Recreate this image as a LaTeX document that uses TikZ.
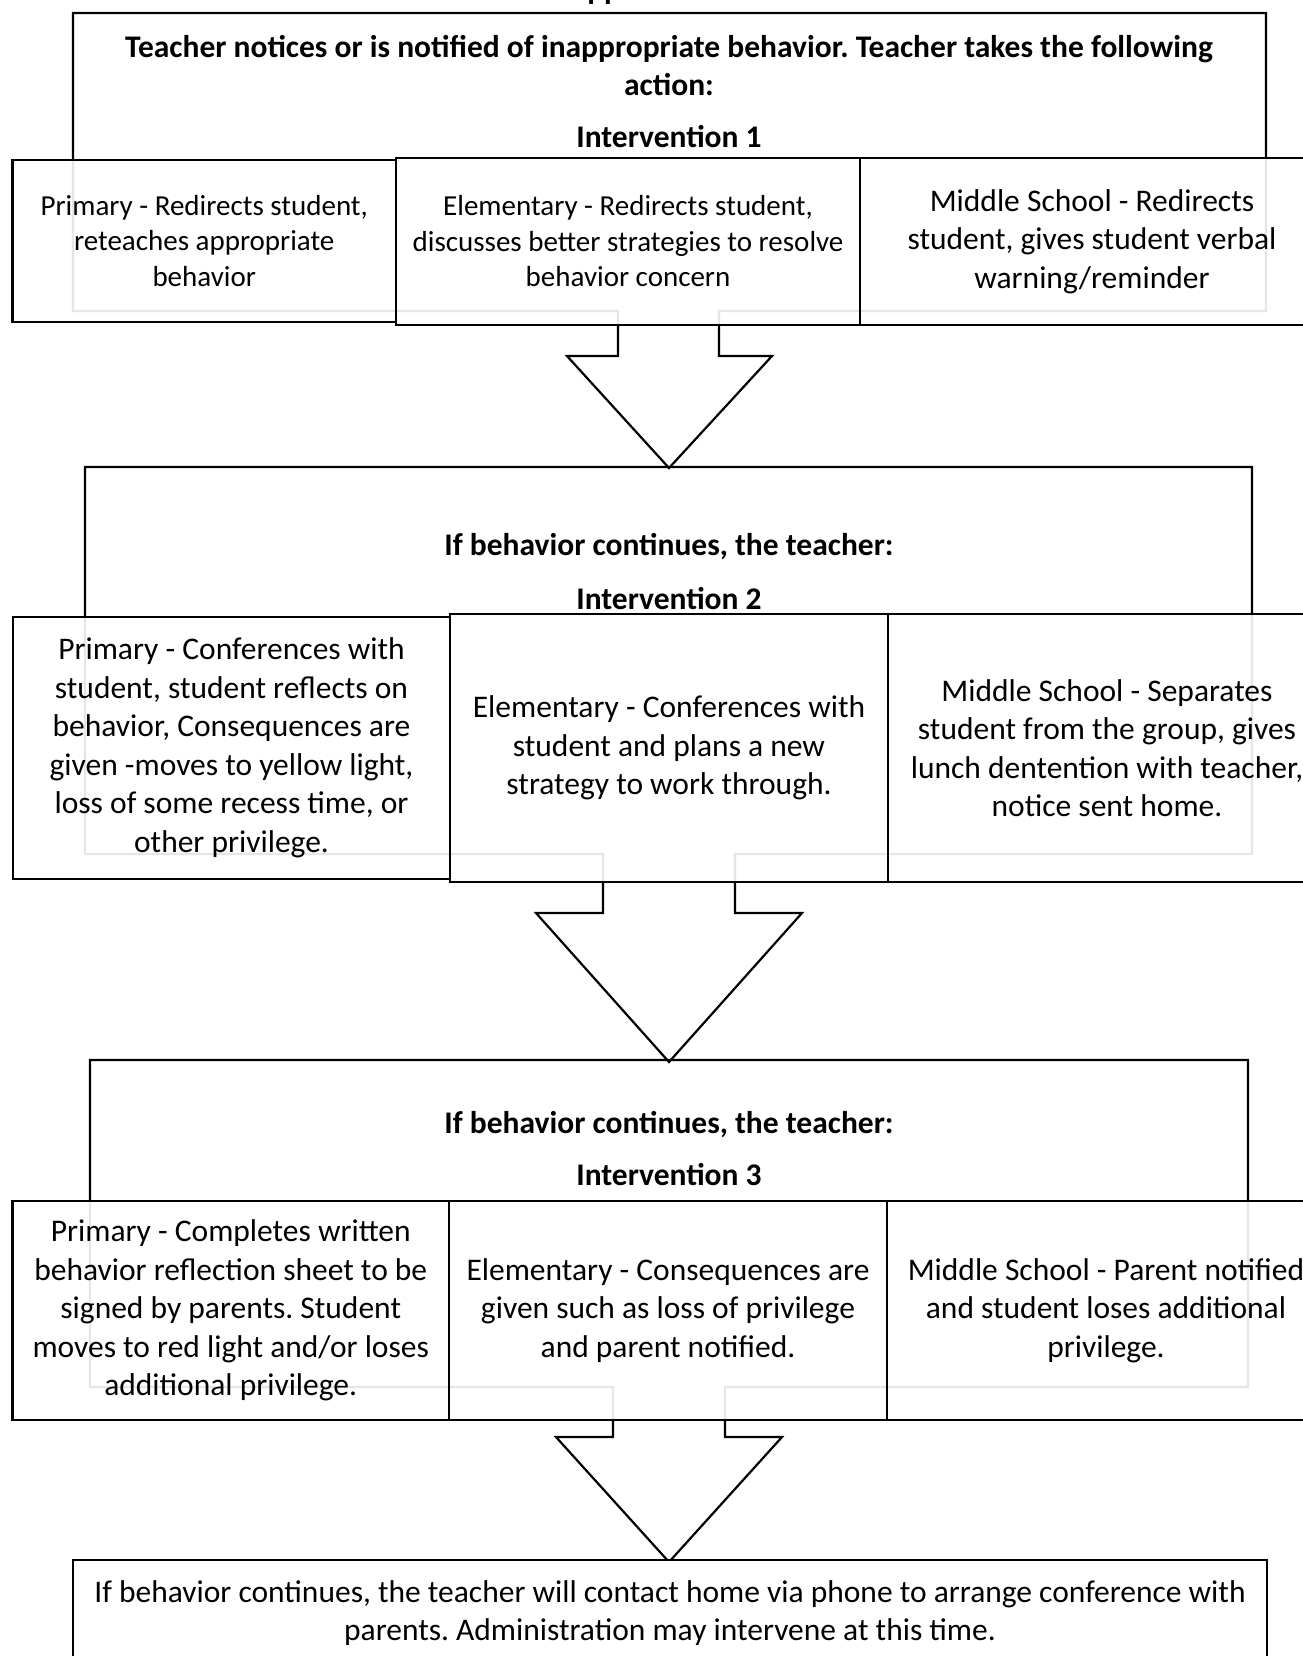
\documentclass[tikz,border=0pt]{standalone}
\usepackage{fontspec}
\setmainfont{Carlito}
\frenchspacing
\tikzset{
  blockarrow/.style={draw, line width=2.2pt, line join=miter},
  row/.style={draw, line width=2.4pt, fill=white, fill opacity=0.9, text opacity=1, align=center, inner sep=0pt, font=\fontsize{31.5}{38.5}\selectfont},
  rowsmall/.style={row, font=\fontsize{29}{35.5}\selectfont},
  head/.style={align=center, inner sep=0pt, font=\bfseries\fontsize{31.5}{38}\selectfont},
}
\begin{document}
\begin{tikzpicture}[x=1pt, y=-1pt]
	\useasboundingbox (0,0) rectangle (1302,1656);
	\node[head, anchor=base west] (title) at (568,0) {Appendix};
	\foreach \xl/\xr/\ya/\yb/\sl/\sr/\ys/\hl/\hr/\yp in {73/1266/13/311/618/719/356/567/772/468, 85/1252/467/854/603/735/913/536/802/1062, 90/1248/1060/1387/613/725/1437/556/782/1562}{
	\draw[blockarrow] (\xl,\ya) -- (\xr,\ya) -- (\xr,\yb) -- (\sr,\yb) -- (\sr,\ys) -- (\hr,\ys) -- (669,\yp) -- (\hl,\ys) -- (\sl,\ys) -- (\sl,\yb) -- (\xl,\yb) -- cycle;
	}
	\node[head] (h1) at (669,66) {Teacher notices or is notified of inappropriate behavior. Teacher takes the following\\ action:};
	\node[head] (i1) at (669,137) {Intervention 1};
	\node[rowsmall, minimum width=383.5pt, minimum height=162pt] (p1) at (204.25,241) {Primary - Redirects student,\\ reteaches appropriate\\ behavior};
	\node[rowsmall, minimum width=464pt, minimum height=167pt] (e1) at (628,241.5) {Elementary - Redirects student,\\ discusses better strategies to resolve\\ behavior concern};
	\node[row, minimum width=464pt, minimum height=167pt] (m1) at (1092,241.5) {Middle School - Redirects\\ student, gives student verbal\\ warning/reminder};
	\node[head] (h2) at (669,547) {If behavior continues, the teacher:};
	\node[head] (i2) at (669,599) {Intervention 2};
	\node[row, minimum width=437pt, minimum height=262pt] (p2) at (231.5,748) {Primary - Conferences with\\ student, student reflects on\\ behavior, Consequences are\\ given -moves to yellow light,\\ loss of some recess time, or\\ other privilege.};
	\node[row, minimum width=438pt, minimum height=268pt] (e2) at (669,748) {Elementary - Conferences with\\ student and plans a new\\ strategy to work through.};
	\node[row, minimum width=438pt, minimum height=268pt] (m2) at (1107,748) {Middle School - Separates\\ student from the group, gives\\ lunch dentention with teacher,\\ notice sent home.};
	\node[head] (h3) at (669,1125) {If behavior continues, the teacher:};
	\node[head] (i3) at (669,1175) {Intervention 3};
	\node[row, minimum width=436.5pt, minimum height=219pt] (p3) at (230.75,1310.5) {Primary - Completes written\\ behavior reflection sheet to be\\ signed by parents. Student\\ moves to red light and/or loses\\ additional privilege.};
	\node[row, minimum width=438pt, minimum height=219pt] (e3) at (668,1310.5) {Elementary - Consequences are\\ given such as loss of privilege\\ and parent notified.};
	\node[row, minimum width=438pt, minimum height=219pt] (m3) at (1106,1310.5) {Middle School - Parent notified\\ and student loses additional\\ privilege.};
	\node[row, fill opacity=1, minimum width=1194pt, minimum height=106pt] (home) at (670,1613) {If behavior continues, the teacher will contact home via phone to arrange conference with\\ parents. Administration may intervene at this time.};
\end{tikzpicture}
\end{document}
